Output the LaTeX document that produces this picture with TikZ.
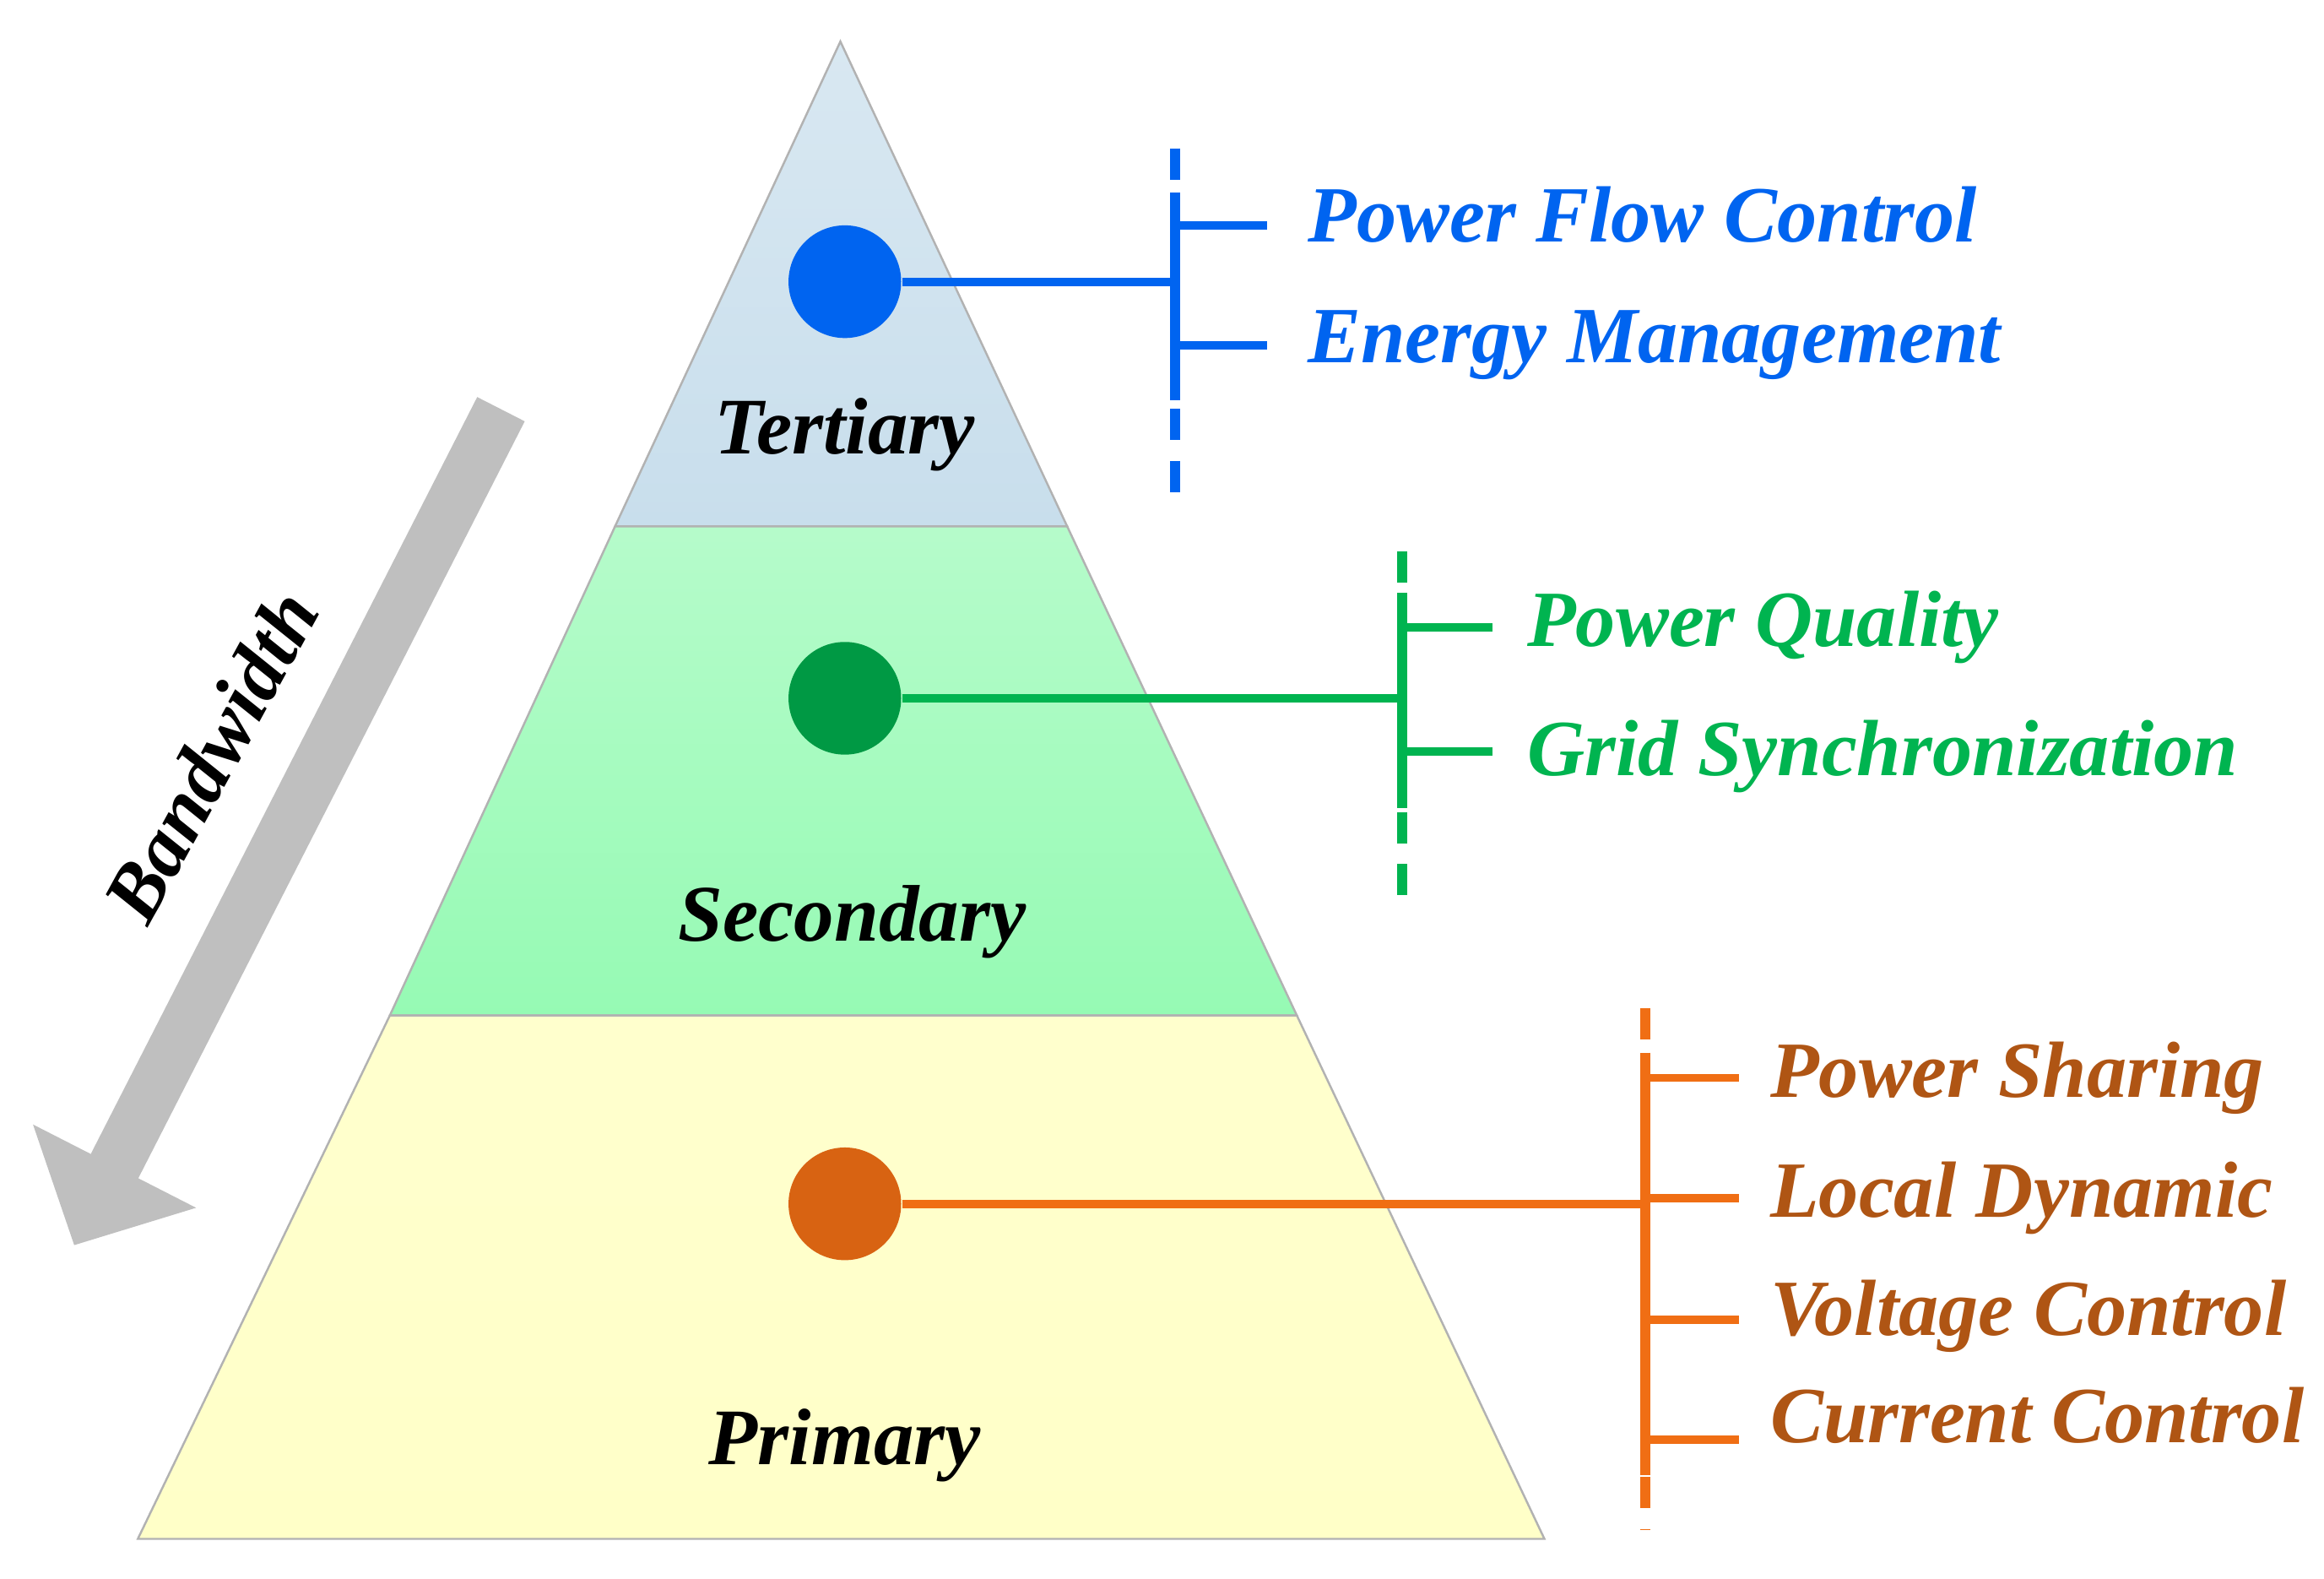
\documentclass[tikz,border=0pt]{standalone}
\usepackage{fontspec}
\setmainfont{Liberation Serif}
\usepackage{xcolor}
\definecolor{tblue}{RGB}{0,100,240}
\definecolor{sgreen}{RGB}{0,180,80}
\definecolor{porange}{RGB}{240,110,20}
\definecolor{ptext}{RGB}{175,85,20}
\definecolor{tfill}{RGB}{200,222,236}
\definecolor{sfill}{RGB}{150,250,180}
\definecolor{pfill}{RGB}{255,255,200}
\usepackage{tikz}
\usetikzlibrary{positioning}
\usetikzlibrary{arrows.meta}

\begin{document}
\begin{tikzpicture}[level/.style={draw=gray!60, thin},
    dot/.style={circle, minimum size=0.76cm, inner sep=0pt},
    levellabel/.style={font=\fontsize{15.4}{18}\selectfont\bfseries\itshape},
    item/.style={anchor=west, font=\fontsize{15.3}{18}\selectfont\bfseries\itshape},
    link/.style={line width=1.6pt},
    bar/.style={line width=2pt},
]
\useasboundingbox (0,0) rectangle (15.68,-10.65);

% pyramid levels
\fill[top color=tfill!70, bottom color=tfill, draw=gray!60] (5.67,-0.28) -- (7.20,-3.55) -- (4.15,-3.55) -- cycle;
\fill[top color=sfill!70, bottom color=sfill, draw=gray!60] (4.15,-3.55) -- (7.20,-3.55) -- (8.75,-6.85) -- (2.63,-6.85) -- cycle;
\fill[top color=pfill!90, bottom color=pfill, draw=gray!60] (2.63,-6.85) -- (8.75,-6.85) -- (10.42,-10.38) -- (0.93,-10.38) -- cycle;

\node[levellabel] (tertiary) at (5.70,-2.93) {Tertiary};
\node[levellabel] (secondary) at (5.75,-6.22) {Secondary};
\node[levellabel] (primary) at (5.70,-9.75) {Primary};

% bandwidth arrow
\coordinate (bw_start) at (3.38,-2.76);
\coordinate (bw_end) at (0.50,-8.40);
\draw[gray!50, line width=0.36cm, -{Triangle[width=1.2cm, length=0.6cm]}] (bw_start) -- (bw_end);
\node[levellabel, rotate=61.3] (bandwidth) at (1.42,-5.10) {Bandwidth};

% tertiary
\node[dot, fill=tblue] (tdot) at (5.70,-1.90) {};
\coordinate (tbar_top) at (7.93,-1.00);
\coordinate (tbar_bot) at (7.93,-3.33);
\coordinate (tjoin) at (7.93,-1.90);
\draw[bar, tblue, dash pattern=on 6pt off 4pt] (tbar_top) -- (tbar_bot);
\draw[bar, tblue] (7.93,-1.30) -- (7.93,-2.70);
\draw[link, tblue] (tdot) -- (tjoin);
\node[item, text=tblue] (pfc) at (8.70,-1.45) {Power Flow Control};
\node[item, text=tblue] (em) at (8.70,-2.33) {Energy Management};
\draw[link, tblue] (7.93,-1.52) -- (8.55,-1.52);
\draw[link, tblue] (7.93,-2.33) -- (8.55,-2.33);

% secondary
\node[dot, fill=sgreen!85!black] (sdot) at (5.70,-4.71) {};
\coordinate (sbar_top) at (9.46,-3.72);
\coordinate (sbar_bot) at (9.46,-6.10);
\coordinate (sjoin) at (9.46,-4.71);
\draw[bar, sgreen, dash pattern=on 6pt off 4pt] (sbar_top) -- (sbar_bot);
\draw[bar, sgreen] (9.46,-4.00) -- (9.46,-5.45);
\draw[link, sgreen] (sdot) -- (sjoin);
\node[item, text=sgreen] (pq) at (10.18,-4.23) {Power Quality};
\node[item, text=sgreen] (gs) at (10.18,-5.10) {Grid Synchronization};
\draw[link, sgreen] (9.46,-4.23) -- (10.07,-4.23);
\draw[link, sgreen] (9.46,-5.07) -- (10.07,-5.07);

% primary
\node[dot, fill=porange!90!black] (pdot) at (5.70,-8.12) {};
\coordinate (pbar_top) at (11.10,-6.80);
\coordinate (pbar_bot) at (11.10,-10.32);
\coordinate (pjoin) at (11.10,-8.12);
\draw[bar, porange, dash pattern=on 6pt off 4pt] (pbar_top) -- (pbar_bot);
\draw[bar, porange] (11.10,-7.10) -- (11.10,-9.95);
\draw[link, porange] (pdot) -- (pjoin);
\node[item, text=ptext] (ps) at (11.82,-7.27) {Power Sharing};
\node[item, text=ptext] (ld) at (11.82,-8.08) {Local Dynamic};
\node[item, text=ptext] (vc) at (11.82,-8.88) {Voltage Control};
\node[item, text=ptext] (cc) at (11.82,-9.55) {Current Control};
\draw[link, porange] (11.10,-7.27) -- (11.73,-7.27);
\draw[link, porange] (11.10,-8.08) -- (11.73,-8.08);
\draw[link, porange] (11.10,-8.90) -- (11.73,-8.90);
\draw[link, porange] (11.10,-9.71) -- (11.73,-9.71);
\end{tikzpicture}
\end{document}
